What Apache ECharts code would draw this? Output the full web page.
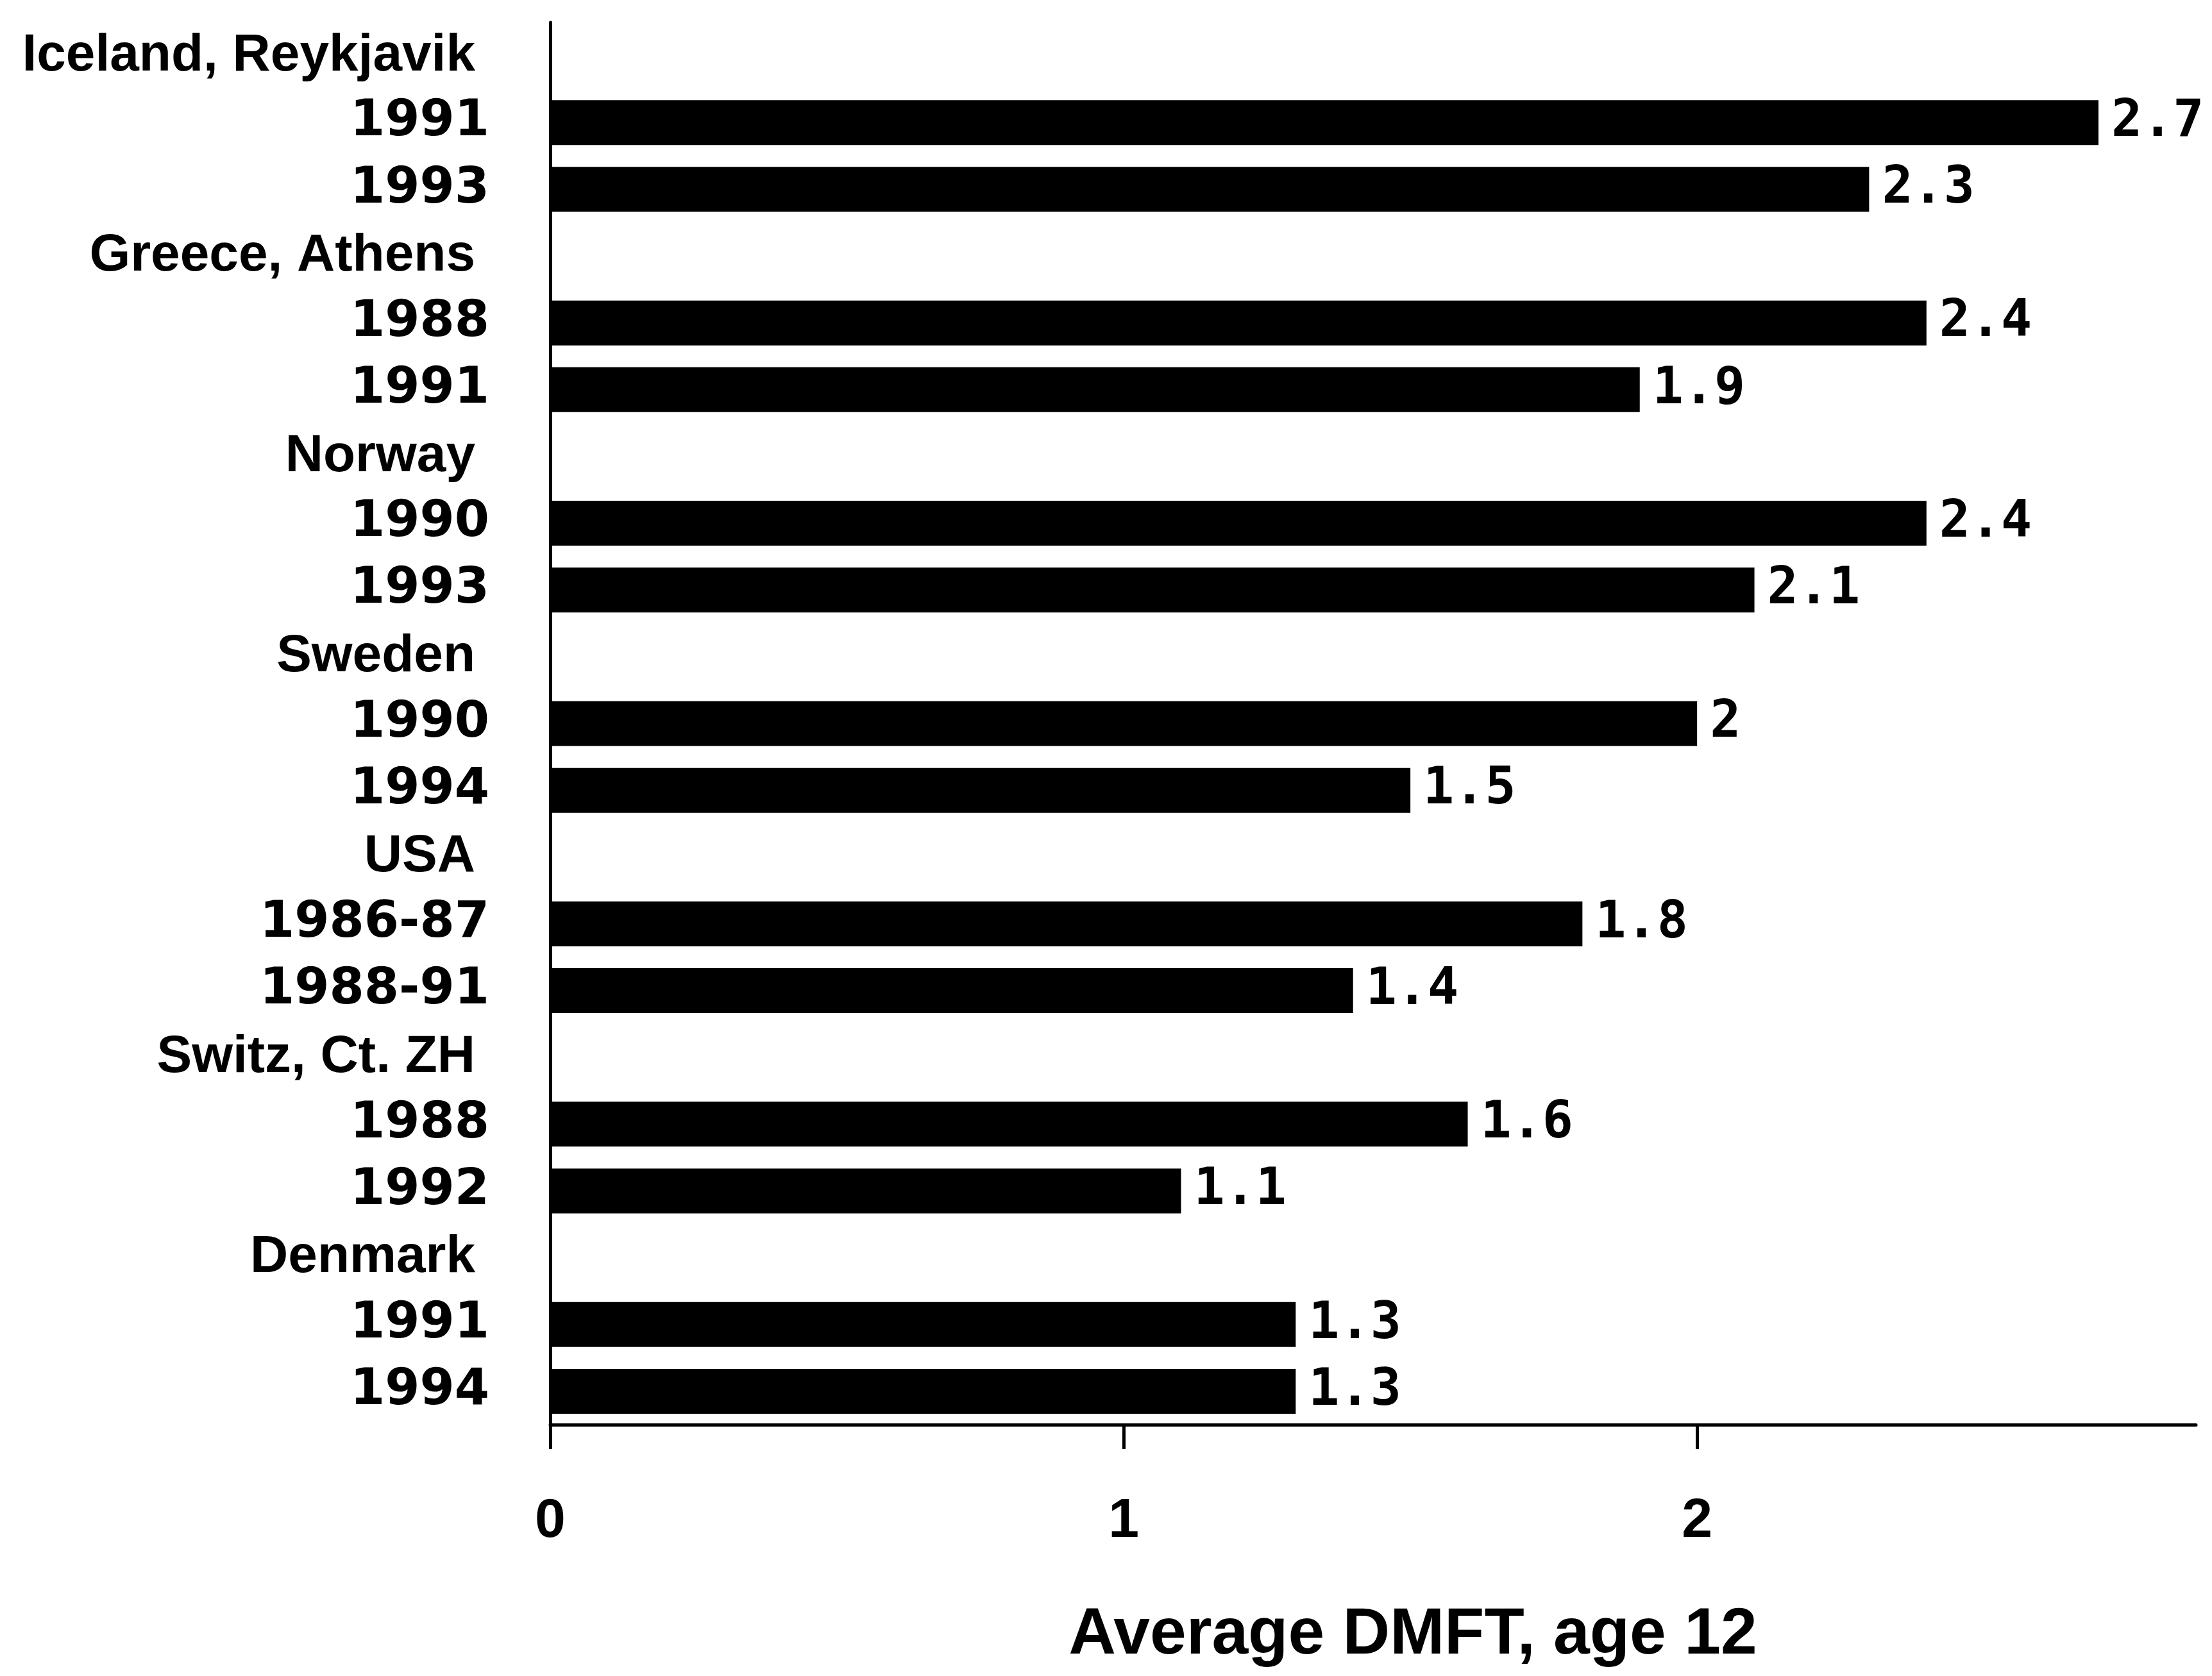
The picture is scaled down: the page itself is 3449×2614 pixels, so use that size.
<!DOCTYPE html>
<html>
<head>
<meta charset="utf-8">
<style>html,body{margin:0;padding:0;background:#fff;}#chart{width:3449px;height:2614px;}</style>
<script src="https://cdn.jsdelivr.net/npm/echarts@6/dist/echarts.min.js"></script>
</head>
<body>
<div id="chart"></div>
<script>
// Row labels, top to bottom (group headers have no bar)
const categories = [
  'Iceland, Reykjavik', '1991', '1993',
  'Greece, Athens', '1988', '1991',
  'Norway', '1990', '1993',
  'Sweden', '1990', '1994',
  'USA', '1986-87', '1988-91',
  'Switz, Ct. ZH', '1988', '1992',
  'Denmark', '1991', '1994'
];
const isHeader = [
  true, false, false,
  true, false, false,
  true, false, false,
  true, false, false,
  true, false, false,
  true, false, false,
  true, false, false
];
// Average DMFT values ('-' = header row, no bar)
const dmftValues = [
  '-', 2.7, 2.3,
  '-', 2.4, 1.9,
  '-', 2.4, 2.1,
  '-', 2.0, 1.5,
  '-', 1.8, 1.4,
  '-', 1.6, 1.1,
  '-', 1.3, 1.3
];
const xTicks = [0, 1, 2];
const xAxisTitle = 'Average DMFT, age 12';

const chart = echarts.init(document.getElementById('chart'), null, {renderer: 'canvas'});
chart.setOption({
  animation: false,
  backgroundColor: '#ffffff',
  grid: {left: 858, right: 25, top: 35, bottom: 392, containLabel: false},
  xAxis: {
    type: 'value',
    min: 0,
    max: 2.87,
    interval: 1,
    name: xAxisTitle,
    nameLocation: 'middle',
    nameGap: 278,
    nameTextStyle: {
      fontFamily: 'Liberation Sans, Arial, sans-serif',
      fontWeight: 'bold',
      fontSize: 102,
      color: '#000',
      padding: [0, 0, 0, 124]
    },
    axisLine: {show: true, lineStyle: {color: '#000', width: 5}},
    axisTick: {show: true, customValues: xTicks, length: 38, inside: false, lineStyle: {color: '#000', width: 5}},
    axisLabel: {
      show: true,
      customValues: xTicks,
      margin: 108,
      fontFamily: 'Liberation Sans, Arial, sans-serif',
      fontWeight: 'bold',
      fontSize: 86,
      color: '#000'
    },
    splitLine: {show: false}
  },
  yAxis: {
    type: 'category',
    inverse: true,
    data: categories,
    axisLine: {show: true, onZero: false, lineStyle: {color: '#000', width: 5}},
    axisTick: {show: false},
    axisLabel: {
      margin: 95,
      interval: 0,
      formatter: function (value, index) {
        return isHeader[index] ? '{h|' + value + '}' : '{y|' + value + '}';
      },
      rich: {
        h: {
          fontFamily: 'Liberation Sans, Arial, sans-serif',
          fontWeight: 'bold',
          fontSize: 82,
          color: '#000',
          padding: [0, 22, 0, 0]
        },
        y: {
          fontFamily: 'DejaVu Sans, sans-serif',
          fontWeight: 'bold',
          fontSize: 78,
          color: '#000'
        }
      }
    },
    splitLine: {show: false}
  },
  series: [{
    type: 'bar',
    data: dmftValues,
    barWidth: 70,
    itemStyle: {color: '#000'},
    label: {
      show: true,
      position: 'right',
      distance: 20,
      formatter: function (p) { return String(p.value); },
      fontFamily: 'DejaVu Sans Mono, monospace',
      fontWeight: 'bold',
      fontSize: 80,
      color: '#000'
    }
  }]
});
</script>
</body>
</html>
